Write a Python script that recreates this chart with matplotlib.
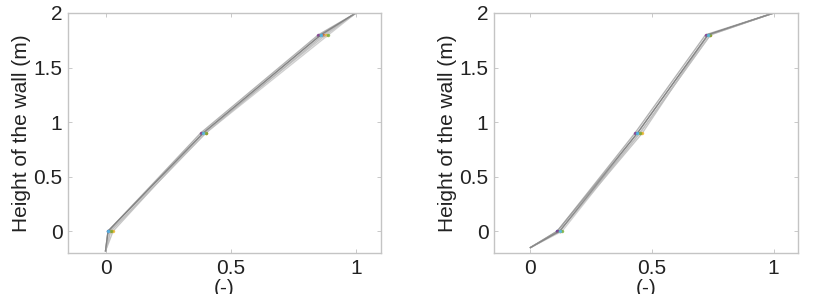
#!/usr/bin/env python3
# Wall deflection profiles, two cases side by side
import numpy as np
import matplotlib
matplotlib.use('Agg')
import matplotlib.pyplot as plt

plt.rcParams['font.family'] = ['Liberation Sans', 'DejaVu Sans']

# heights of the nodes along the wall (m)
heights_left = [-0.18, 0, 0.9, 1.8, 2.0]
heights_right = [-0.15, 0, 0.9, 1.8, 2.0]

# normalised displacement (-) of each run, left case
left_runs = [
    [0.0, 0.01, 0.39, 0.86, 1.0],
    [0.0, 0.02, 0.40, 0.87, 1.0],
    [0.0, 0.03, 0.39, 0.88, 1.0],
    [0.0, 0.01, 0.38, 0.85, 1.0],
    [0.0, 0.02, 0.40, 0.89, 1.0],
    [0.0, 0.01, 0.39, 0.86, 1.0],
]
# right case
right_runs = [
    [0.0, 0.11, 0.44, 0.73, 1.0],
    [0.0, 0.12, 0.45, 0.74, 1.0],
    [0.0, 0.12, 0.46, 0.73, 1.0],
    [0.0, 0.11, 0.43, 0.72, 1.0],
    [0.0, 0.13, 0.45, 0.74, 1.0],
    [0.0, 0.12, 0.44, 0.73, 1.0],
]

line_greys = ['#8c8c8c', '#a8a8a8', '#b4b4b4', '#9a9a9a', '#c0c0c0', '#7a7a7a']
marker_cols = ['#0072bd', '#d95319', '#edb120', '#7e2f8e', '#77ac30', '#4dbeee']

xticks = [0, 0.5, 1]
xticklabels = ['0', '0.5', '1']
yticks = [0, 0.5, 1, 1.5, 2]
yticklabels = ['0', '0.5', '1', '1.5', '2']

fig = plt.figure(figsize=(8.19, 2.94), dpi=100)
ax1 = fig.add_axes([68/819, 1-253/294, 313/819, 240/294])
ax2 = fig.add_axes([494/819, 1-253/294, 304/819, 240/294])

for ax, runs, hts in [(ax1, left_runs, heights_left), (ax2, right_runs, heights_right)]:
    for i, xs in enumerate(runs):
        ax.plot(xs, hts, color=line_greys[i], lw=1.0, alpha=0.75)
        ax.plot(xs[1:-1], hts[1:-1], ls='none', marker='.', ms=3,
                color=marker_cols[i], alpha=0.7)
    ax.set_xlim(-0.15, 1.1)
    ax.set_ylim(-0.2, 2)
    ax.set_xticks(xticks)
    ax.set_xticklabels(xticklabels)
    ax.set_yticks(yticks)
    ax.set_yticklabels(yticklabels)
    ax.tick_params(direction='in', length=3, width=0.6, color='#c0c0c0',
                   labelsize=15, labelcolor='#222222', top=True, right=True,
                   pad=4)
    for s in ax.spines.values():
        s.set_color('#c4c4c4')
        s.set_linewidth(1.0)
    ax.set_ylabel('Height of the wall (m)', fontsize=15, color='#222222', labelpad=2)
    ax.set_xlabel('(-)', fontsize=15, color='#222222', labelpad=1)

plt.savefig('out.png', dpi=100)
